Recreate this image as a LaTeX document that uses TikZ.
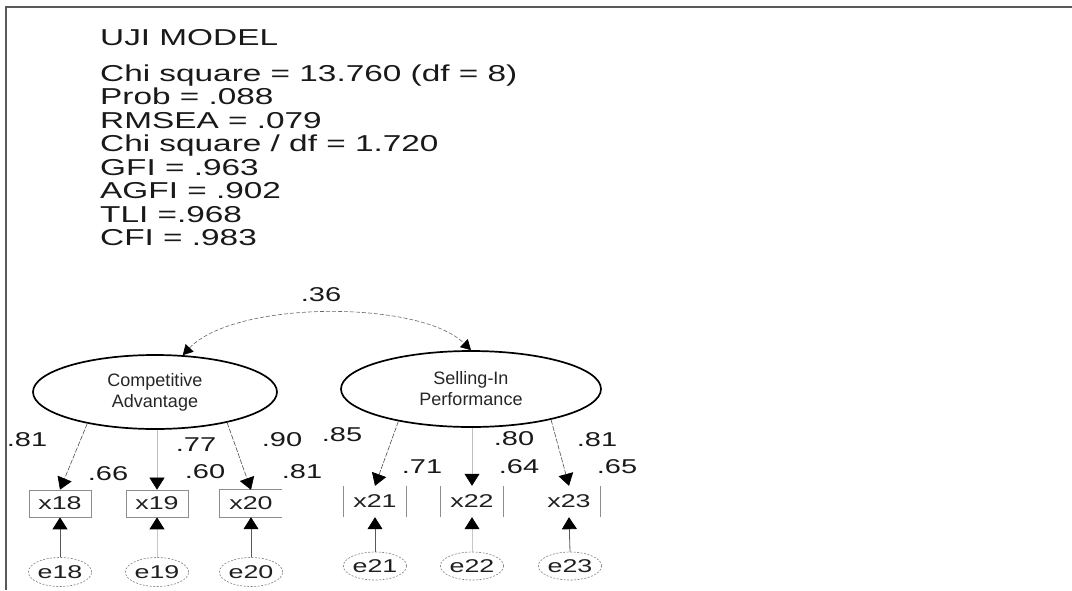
\documentclass[tikz,border=0pt]{standalone}
\usepackage{fontspec}
\setmainfont{Liberation Sans}
\newfontfamily\widefont{Liberation Sans}[FakeStretch=1.45]
\usetikzlibrary{arrows.meta,shapes.geometric}

\begin{document}
\begin{tikzpicture}[x=1pt,y=-1pt,
  stat/.style={anchor=base west, inner sep=0pt, text=black!90,
    font=\widefont\fontsize{23}{24}\selectfont},
  lat/.style={ellipse, draw=black, line width=1.7pt, inner sep=0pt,
    align=center, text=black!85, font=\fontsize{18}{21}\selectfont},
  obs/.style={rectangle, inner sep=0pt, minimum width=62pt, minimum height=27pt,
    text=black!88, font=\widefont\fontsize{18.5}{20}\selectfont},
  obsr/.style={obs, minimum width=63pt, minimum height=31pt},
  boxline/.style={draw=black!45, line width=0.7pt},
  err/.style={ellipse, draw=black!50, dash pattern=on 2pt off 1.5pt,
    line width=0.6pt, inner sep=0pt, minimum width=62pt, minimum height=29pt,
    text=black!88, font=\widefont\fontsize{18.5}{20}\selectfont},
  coef/.style={inner sep=0pt, text=black!90,
    font=\widefont\fontsize{20}{22}\selectfont},
  headarrow/.style={-{Triangle[length=12pt,width=15pt,color=black]}},
  load/.style={draw=black!70, line width=0.6pt, dash pattern=on 5pt off 1.5pt},
  loadv/.style={draw=black!25, line width=0.6pt},
  errline/.style={draw=black!65, line width=0.8pt},
  errfaint/.style={draw=black!22, line width=0.8pt},
  covline/.style={draw=black!60, line width=0.6pt, dash pattern=on 4pt off 2pt,
    {Triangle[length=10pt,width=11pt,color=black]}-{Triangle[length=10pt,width=11pt,color=black]}}
]
\useasboundingbox (0,0) rectangle (1072,590);

% frame
\draw[black!65, line width=2pt] (6,590) -- (6,7) -- (1072,7);

% fit statistics
\node[stat] (title) at (100,45) {UJI MODEL};
\foreach \t [count=\i] in {Chi square = 13.760 (df = 8), Prob = .088,
    RMSEA = .079, Chi square / df = 1.720, GFI = .963, AGFI = .902,
    TLI =.968, CFI = .983}
  \node[stat] (s\i) at (100,{81+(\i-1)*23.5}) {\t};

% latent variables
\node[lat, minimum width=244pt, minimum height=74pt] (ca) at (155,392)
  {Competitive\\Advantage};
\node[lat, minimum width=260pt, minimum height=76pt] (si) at (471,389)
  {Selling-In\\Performance};

% covariance
\draw[covline] (ca.53) .. controls (235,300) and (420,300) .. (si.90);
\node[coef] (cov) at (321,295) {.36};

% indicators
\node[obs, boxline] (x18) at (60,503.5) {x18};
\node[obs, boxline] (x19) at (157,503.5) {x19};
\node[obs] (x20) at (251,503.5) {x20};
\draw[boxline] (x20.north east) -- (x20.north west) -- (x20.south west) -- (x20.south east);
\node[obsr] (x21) at (375,501.5) {x21};
\node[obsr] (x22) at (472,501.5) {x22};
\node[obsr] (x23) at (569,501.5) {x23};
\foreach \n in {x21,x22}{
  \draw[boxline] (\n.north west) -- (\n.south west);
  \draw[boxline] (\n.north east) -- (\n.south east);
}
\draw[boxline] (x23.north east) -- (x23.south east);

% error terms
\node[err] (e18) at (60,572) {e18};
\node[err] (e19) at (157,572) {e19};
\node[err] (e20) at (251,572) {e20};
\node[err, minimum height=28pt] (e21) at (375,566) {e21};
\node[err, minimum height=28pt] (e22) at (472,566) {e22};
\node[err, minimum height=28pt] (e23) at (570,566) {e23};

% loadings
\draw[load, headarrow] (ca.205) -- (x18.north);
\draw[loadv, headarrow] (x19.north |- ca.south) -- (x19.north);
\draw[load, headarrow] (ca.337) -- (x20.north);
\draw[load, headarrow] (si.204) -- (x21.north);
\draw[loadv, headarrow] (x22.north |- si.south) -- (x22.north);
\draw[load, headarrow] (si.339) -- (x23.north);

% error paths
\draw[errline, headarrow] (e18.north) -- (x18.south);
\draw[errfaint, headarrow] (e19.north) -- (x19.south);
\draw[errline, headarrow] (e20.north) -- (x20.south);
\draw[errline, headarrow] (e21.north) -- (x21.south);
\draw[errfaint, headarrow] (e22.north) -- (x22.south);
\draw[errline, headarrow] (e23.north) -- (x23.south);

% standardized loadings and squared multiple correlations
\node[coef] (l18) at (27,440) {.81};
\node[coef] (r18) at (108,474) {.66};
\node[coef] (l19) at (196,445) {.77};
\node[coef] (r19) at (205,472) {.60};
\node[coef] (l20) at (282,440) {.90};
\node[coef] (r20) at (302,472) {.81};
\node[coef] (l21) at (342,435) {.85};
\node[coef] (r21) at (422,467) {.71};
\node[coef] (l22) at (514,439) {.80};
\node[coef] (r22) at (519,467) {.64};
\node[coef] (l23) at (597,440) {.81};
\node[coef] (r23) at (617,467) {.65};
\end{tikzpicture}
\end{document}
